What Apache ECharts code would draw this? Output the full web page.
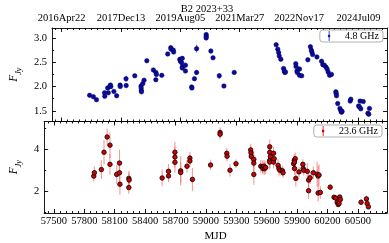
<!DOCTYPE html>
<html><head><meta charset="utf-8">
<script src="https://cdn.jsdelivr.net/npm/echarts@6/dist/echarts.min.js"></script>
<style>html,body{margin:0;padding:0;background:#fff}#c{width:389px;height:243px}</style>
</head><body><div id="c"></div>
<script>
// ---- data: 4.8 GHz ----
const mjd48 = [57783,57821,57852,57934,57936,57965,57972,57988,57993,57997,58028,58056,58091,58092,58151,58152,58239,58302,58304,58305,58307,58320,58333,58361,58427,58452,58458,58452,58512,58572,58603,58606,58628,58632,58694,58700,58719,58713,58719,58720,58751,58751,58814,58817,58842,58864,58864,58961,58961,58961,59008,59030,59093,59140,59244,59668,59684,59693,59699,59715,59743,59750,59756,59762,59866,59869,59878,59882,59904,59904,59926,59988,60014,60023,60029,60036,60080,60127,60139,60155,60171,60183,60193,60208,60227,60271,60274,60278,60290,60312,60321,60328,60334,60416,60422,60501,60510,60516,60523,60548,60595,60604,60611];
const flux48 = [1.82,1.79,1.73,1.87,1.80,1.97,1.87,2.00,2.03,2.00,1.90,1.81,2.03,2.00,2.16,2.02,2.22,2.01,1.97,1.92,1.89,2.06,2.13,2.53,2.34,2.29,2.25,2.14,2.23,2.67,2.80,2.77,2.75,2.71,2.56,2.52,2.58,2.49,2.40,2.38,2.44,2.32,1.99,1.97,2.16,2.29,2.78,3.07,3.03,3.00,2.73,2.59,2.22,2.01,2.29,2.86,2.77,2.70,2.63,2.56,2.37,2.32,2.29,2.30,2.47,2.41,2.32,2.29,2.36,2.23,2.22,2.55,2.82,2.75,2.71,2.66,2.61,2.52,2.45,2.44,2.40,2.36,2.30,2.23,2.25,1.89,1.86,1.81,1.65,1.55,1.50,1.47,1.49,1.70,1.74,1.60,1.58,1.70,1.54,1.69,1.45,1.43,1.55];
const err48 = [0.02,0.02,0.02,0.03,0.03,0.03,0.02,0.03,0.03,0.02,0.02,0.02,0.03,0.02,0.06,0.04,0.04,0.03,0.03,0.03,0.03,0.03,0.03,0.02,0.02,0.03,0.03,0.03,0.02,0.03,0.05,0.04,0.04,0.03,0.03,0.03,0.03,0.03,0.03,0.03,0.03,0.03,0.03,0.03,0.04,0.05,0.08,0.03,0.03,0.03,0.05,0.02,0.06,0.02,0.03,0.03,0.03,0.03,0.03,0.03,0.03,0.03,0.03,0.03,0.03,0.03,0.06,0.04,0.03,0.03,0.02,0.03,0.04,0.03,0.03,0.03,0.03,0.03,0.03,0.03,0.03,0.03,0.08,0.03,0.02,0.03,0.03,0.02,0.03,0.03,0.03,0.03,0.03,0.03,0.03,0.02,0.02,0.02,0.02,0.02,0.02,0.02,0.02];

// ---- data: 23.6 GHz ----
const mjd236 = [57893,57899,57968,57994,58025,58053,58053,58119,58147,58147,58151,58239,58242,58239,58568,58631,58631,58694,58694,58694,58751,58751,58813,58842,58842,58867,59046,59140,59140,59206,59209,59238,59297,59442,59445,59448,59473,59473,59473,59542,59558,59564,59574,59580,59590,59630,59630,59630,59630,59637,59668,59668,59674,59712,59721,59731,59756,59762,59866,59872,59882,59875,59875,59888,59919,59957,59960,59967,60001,60014,60014,60029,60061,60098,60108,60117,60108,60130,60227,60265,60281,60296,60306,60315,60321,60328,60532,60585,60592,60604];
const flux236 = [2.72,2.88,3.03,3.86,4.59,4.20,3.28,2.80,2.88,3.34,2.33,2.61,2.53,2.17,2.63,2.95,2.73,3.86,3.63,3.38,2.97,2.89,3.19,3.58,3.44,2.56,3.25,4.80,4.72,3.81,3.67,3.00,3.31,3.97,3.83,3.66,3.52,3.34,2.80,3.19,3.16,3.08,3.19,3.08,3.13,4.12,3.86,3.47,3.39,3.66,3.81,3.39,3.55,3.23,3.08,3.00,2.97,2.88,3.31,3.47,3.55,3.39,3.08,2.61,2.92,3.28,3.08,3.00,2.95,2.53,2.02,2.64,2.88,2.81,2.72,2.77,1.91,1.94,2.19,1.71,1.67,1.47,1.36,1.41,1.72,1.60,1.47,1.63,1.41,1.25];
const err236 = [0.25,0.3,0.45,0.6,0.4,0.6,0.5,0.45,0.5,0.65,0.5,0.35,0.35,0.3,0.4,0.35,0.3,0.5,0.5,0.5,0.7,0.5,0.3,0.3,0.3,0.55,0.25,0.25,0.25,0.25,0.25,0.3,0.2,0.3,0.3,0.3,0.4,0.4,0.5,0.3,0.3,0.3,0.3,0.3,0.3,0.35,0.35,0.35,0.35,0.35,0.3,0.3,0.3,0.3,0.3,0.3,0.25,0.25,0.3,0.3,0.3,0.3,0.3,0.4,0.25,0.25,0.25,0.25,0.4,0.35,0.4,0.3,0.3,0.6,0.5,0.5,0.4,0.3,0.15,0.1,0.1,0.1,0.1,0.1,0.1,0.1,0.15,0.15,0.15,0.1];

// ---- tick labels ----
const dateTicks = [57500,58100,58700,59300,59900,60500];
const dateLabels = ['2016Apr22','2017Dec13','2019Aug05','2021Mar27','2022Nov17','2024Jul09'];
const mjdTicks = [57500,57800,58100,58400,58700,59000,59300,59600,59900,60200,60500];
const yTicks48 = [1.5,2.0,2.5,3.0];
const yTicks236 = [2,4];

const X_MIN = 57403, X_MAX = 60788;
const Y48 = [1.28, 3.205], Y236 = [0.955, 5.33];
const FONT = 'Liberation Serif';

function range(a,b,s){const r=[];for(let v=a;v<=b+1e-9;v+=s)r.push(+v.toFixed(6));return r;}
const minorX = range(57440, 60740, 60);
const minorY48 = [1.75,2.25,2.75];
const minorY236 = [1,3,5];

const lineStyle = {color:'#000', width:0.9};
function xAx(grid, pos, ticks, len, labels, fmt, name){
  return {type:'value', gridIndex:grid, position:pos, min:X_MIN, max:X_MAX,
    axisLine:{show:true, onZero:false, lineStyle},
    axisTick:{show:true, inside:true, length:len, customValues:ticks, lineStyle},
    axisLabel:labels?{show:true, customValues:labels, formatter:fmt, margin:pos==='top'?4:3,
      fontFamily:FONT, fontSize:10.5, color:'#000'}:{show:false},
    splitLine:{show:false}, name:name||'', nameLocation:'middle', nameGap:18,
    nameTextStyle:{fontFamily:FONT, fontSize:11, color:'#000'}};
}
function yAx(grid, pos, rng, ticks, len, labels, fmt, nameGap){
  const o = {type:'value', gridIndex:grid, position:pos, min:rng[0], max:rng[1],
    axisLine:{show:true, onZero:false, lineStyle},
    axisTick:{show:true, inside:true, length:len, customValues:ticks, lineStyle},
    axisLabel:labels?{show:true, customValues:labels, formatter:fmt, margin:5,
      fontFamily:FONT, fontSize:10.5, color:'#000'}:{show:false},
    splitLine:{show:false}};
  if(nameGap){
    o.name='{a|F}{b|Jy}'; o.nameLocation='middle'; o.nameGap=nameGap; o.nameRotate=90;
    o.nameTextStyle={rich:{
      a:{fontFamily:FONT, fontStyle:'italic', fontSize:11.5, color:'#000', verticalAlign:'bottom', padding:[0,0,3,0]},
      b:{fontFamily:FONT, fontStyle:'italic', fontSize:8, color:'#000', verticalAlign:'bottom'}}};
  }
  return o;
}
const dateFmt = v => { const i = dateTicks.indexOf(Math.round(v)); return i>=0?dateLabels[i]:''; };
const xAxis = [
  xAx(0,'bottom',dateTicks,4), xAx(0,'bottom',minorX,2),
  xAx(0,'top',dateTicks,4,dateTicks,dateFmt), xAx(0,'top',minorX,2),
  xAx(1,'bottom',mjdTicks,4,mjdTicks,v=>String(Math.round(v)),'MJD'), xAx(1,'bottom',minorX,2),
  xAx(1,'top',dateTicks,4), xAx(1,'top',minorX,2)
];
const yAxis = [
  yAx(0,'left',Y48,yTicks48,4,yTicks48,v=>v.toFixed(1),20), yAx(0,'left',Y48,minorY48,2),
  yAx(0,'right',Y48,yTicks48,4), yAx(0,'right',Y48,minorY48,2),
  yAx(1,'left',Y236,yTicks236,4,yTicks236,v=>String(Math.round(v)),15), yAx(1,'left',Y236,minorY236,2),
  yAx(1,'right',Y236,yTicks236,4), yAx(1,'right',Y236,minorY236,2)
];
[1,3,5,7].forEach(i=>{xAxis[i].axisLine.show=false; yAxis[i].axisLine.show=false;});

function errSeries(xi, mjd, flux, err, color){
  return {type:'custom', xAxisIndex:xi, yAxisIndex:xi, silent:true, z:1,
    data: mjd.map((m,i)=>[m, flux[i]-err[i], flux[i]+err[i]]),
    encode:{x:0, y:[1,2]},
    renderItem:(p, api)=>{
      const lo = api.coord([api.value(0), api.value(1)]);
      const hi = api.coord([api.value(0), api.value(2)]);
      return {type:'line', shape:{x1:lo[0],y1:lo[1],x2:hi[0],y2:hi[1]}, style:{stroke:color, lineWidth:1.1}};
    }};
}
const icon = 'path://M2.1,0h0.8v3.4a1.9,1.9 0 0,1 0,3.2v3.4h-0.8v-3.4a1.9,1.9 0 0,1 0,-3.2z';
const legendBase = {orient:'horizontal', icon, itemWidth:4, itemHeight:10,
  borderColor:'#b0b0b0', borderWidth:1, borderRadius:3, padding:[1,4,1,8], backgroundColor:'#fff',
  textStyle:{fontFamily:FONT, fontSize:10, color:'#000', padding:[0,0,0,9]}};

const option = {
  animation:false,
  backgroundColor:'#fff',
  title:[
    {text:'B2 2023+33', left:202, top:-1, textAlign:'center', textStyle:{fontFamily:FONT, fontSize:10.5, fontWeight:'normal', color:'#000'}}
  ],
  grid:[
    {left:28, top:28, width:359, height:93.5},
    {left:28, top:121.5, width:359, height:93.5}
  ],
  xAxis, yAxis,
  legend:[
    Object.assign({}, legendBase, {data:['4.8 GHz'], right:6, top:30,
      itemStyle:{color:'#1a1aa8', borderWidth:0}}),
    Object.assign({}, legendBase, {data:['23.6 GHz'], right:7, top:125,
      itemStyle:{color:'#d40000', borderWidth:0}})
  ],
  series:[
    errSeries(0, mjd48, flux48, err48, 'rgba(60,60,255,0.8)'),
    {type:'scatter', name:'4.8 GHz', xAxisIndex:0, yAxisIndex:0, z:2, symbolSize:4.5,
      data: mjd48.map((m,i)=>[m, flux48[i]]),
      itemStyle:{color:'#0a0a9e', borderColor:'#00005a', borderWidth:0.5, opacity:1}},
    errSeries(4, mjd236, flux236, err236, 'rgba(240,90,90,0.6)'),
    {type:'scatter', name:'23.6 GHz', xAxisIndex:4, yAxisIndex:4, z:2, symbolSize:4.5,
      data: mjd236.map((m,i)=>[m, flux236[i]]),
      itemStyle:{color:'#d40000', borderColor:'#000', borderWidth:0.8, opacity:1}}
  ]
};
const chart = echarts.init(document.getElementById('c'), null, {renderer:'canvas'});
chart.setOption(option);
</script>
</body></html>
